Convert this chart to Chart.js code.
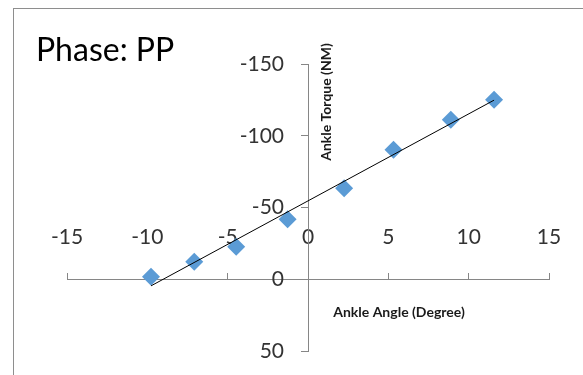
<!DOCTYPE html>
<html>
<head>
<meta charset="utf-8">
<title>Phase: PP</title>
<script src="https://cdn.jsdelivr.net/npm/chart.js@4"></script>
<style>
  html, body { margin: 0; padding: 0; background: #fff; }
  #wrap { position: relative; width: 583px; height: 375px; }
</style>
</head>
<body>
<div id="wrap"><canvas id="ppChart" width="583" height="375"></canvas></div>
<script>
// Phase PP: ankle angle (deg) vs ankle torque (NM)
var angleDeg = [-9.77, -7.08, -4.47, -1.27, 2.25, 5.32, 8.89, 11.58];
var torqueNm = [-1.7, -12.2, -22.7, -41.8, -63.5, -90.2, -111.2, -125.1];

// linear trendline endpoints, as drawn in the original
var trendAngle = [-9.77, 11.58];
var trendTorque = [4.6, -124.8];

var xTicks = [-15, -10, -5, 0, 5, 10, 15];
var yTicks = [-150, -100, -50, 0, 50];

var axisGrey = '#868686';
var labelColor = '#333333';

function toPoints(xs, ys) {
    return xs.map(function(v, i) { return { x: v, y: ys[i] }; });
}

function fixedTicks(list) {
    return function(scale) {
        scale.ticks = list.map(function(v) { return { value: v }; });
    };
}

// frame, title, axis titles and the y labels that sit left of the crossing axis
var decorPlugin = {
    id: 'decor',
    beforeDraw: function(chart) {
        var ctx = chart.ctx;
        ctx.save();
        ctx.strokeStyle = '#8e8e8e';
        ctx.lineWidth = 1;
        ctx.strokeRect(13.5, 8.5, 700, 500);
        ctx.restore();
    },
    afterDraw: function(chart) {
        var ctx = chart.ctx;
        var xs = chart.scales.x, ys = chart.scales.y;
        var axisX = xs.getPixelForValue(0);

        ctx.save();
        ctx.font = '21px Lato';
        ctx.fillStyle = labelColor;
        ctx.textAlign = 'right';
        ctx.textBaseline = 'middle';
        ys.ticks.forEach(function(t) {
            ctx.fillText(String(t.value), axisX - 24, ys.getPixelForValue(t.value));
        });

        ctx.fillStyle = '#000';
        ctx.font = '32px Lato';
        ctx.textAlign = 'left';
        ctx.textBaseline = 'alphabetic';
        ctx.fillText('Phase: PP', 36, 61);

        ctx.font = 'bold 14px Lato';
        ctx.fillStyle = '#1a1a1a';
        ctx.textAlign = 'center';
        ctx.textBaseline = 'middle';
        ctx.fillText('Ankle Angle (Degree)', 399, 312);

        ctx.translate(326, 102);
        ctx.rotate(-Math.PI / 2);
        ctx.fillText('Ankle Torque (NM)', 0, 0);
        ctx.restore();
    }
};

new Chart(document.getElementById('ppChart').getContext('2d'), {
    type: 'scatter',
    data: {
        datasets: [
            {
                label: 'Trend',
                data: toPoints(trendAngle, trendTorque),
                showLine: true,
                borderColor: '#000',
                borderWidth: 1,
                pointRadius: 0,
                fill: false,
                order: 0
            },
            {
                label: 'PP',
                data: toPoints(angleDeg, torqueNm),
                pointStyle: 'rectRot',
                pointRadius: 9,
                pointBackgroundColor: '#5b9bd5',
                pointBorderWidth: 0,
                order: 1
            }
        ]
    },
    options: {
        responsive: false,
        animation: false,
        layout: { padding: { left: 67, right: 34, top: 64, bottom: 24 } },
        plugins: {
            legend: { display: false },
            tooltip: { enabled: false }
        },
        scales: {
            x: {
                type: 'linear',
                position: { y: 0 },
                min: -15,
                max: 15,
                afterBuildTicks: fixedTicks(xTicks),
                grid: { display: true, drawOnChartArea: false, drawTicks: true, tickLength: -7, color: axisGrey },
                border: { display: true, color: axisGrey, width: 1 },
                ticks: { padding: -48, color: labelColor, font: { family: 'Lato', size: 21 }, maxRotation: 0, autoSkip: false }
            },
            y: {
                type: 'linear',
                position: { x: 0 },
                min: -150,
                max: 50,
                reverse: true,
                afterBuildTicks: fixedTicks(yTicks),
                grid: { display: true, drawOnChartArea: false, drawTicks: true, tickLength: 7, color: axisGrey },
                border: { display: true, color: axisGrey, width: 1 },
                ticks: { display: false }
            }
        }
    },
    plugins: [decorPlugin]
});
</script>
</body>
</html>
